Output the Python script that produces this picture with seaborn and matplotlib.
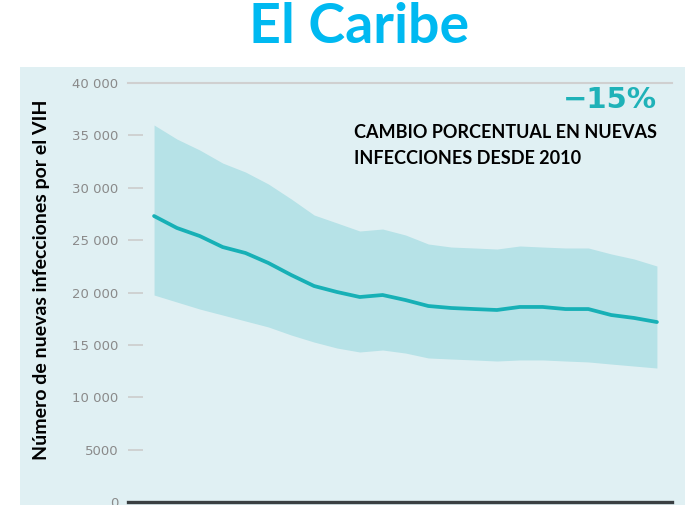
import matplotlib.pyplot as plt
import matplotlib.patches as mpatches
import seaborn as sns
import pandas as pd

# Data (new HIV infections, Caribbean)
years = list(range(1995, 2018))
estimate = [27300, 26160, 25390, 24340, 23770, 22820, 21670, 20620, 20050, 19570,
            19760, 19280, 18710, 18520, 18420, 18330, 18620, 18620, 18420, 18420,
            17850, 17570, 17180]
upper = [35990, 34650, 33600, 32360, 31500, 30360, 28930, 27400, 26640, 25870,
         26060, 25490, 24630, 24340, 24250, 24150, 24440, 24340, 24250, 24250,
         23680, 23200, 22530]
lower = [19760, 19090, 18420, 17850, 17280, 16710, 15940, 15270, 14700, 14320,
         14510, 14220, 13750, 13650, 13560, 13460, 13560, 13560, 13460, 13370,
         13170, 12980, 12790]
yticks = [0, 5000, 10000, 15000, 20000, 25000, 30000, 35000, 40000]
ytick_labels = ['0', '5000', '10 000', '15 000', '20 000', '25 000', '30 000', '35 000', '40 000']

df = pd.DataFrame({'year': years, 'estimate': estimate, 'upper': upper, 'lower': lower})

sns.set_style('white')
plt.rcParams['font.family'] = ['Lato', 'DejaVu Sans']

panel_color = '#e0f0f3'
band_color = '#b6e2e7'
line_color = '#17b0b6'

fig = plt.figure(figsize=(6.92, 5.05), dpi=100)
fig.patches.append(mpatches.Rectangle((20 / 692, 0), 665 / 692, 1 - 67 / 505,
                                      transform=fig.transFigure, facecolor=panel_color,
                                      edgecolor='none', zorder=-10))

ax = fig.add_axes([128 / 692, 3 / 505, 544 / 692, 419 / 505])
ax.set_facecolor('none')
ax.set_zorder(2)

ax.fill_between(df['year'], df['lower'], df['upper'], color=band_color, linewidth=0)
sns.lineplot(data=df, x='year', y='estimate', color=line_color, linewidth=2.7, ax=ax)

ax.set_xlim(years[0] - 1.14, years[-1] + 0.66)
ax.set_ylim(0, 40000)
ax.set_xticks([])
ax.set_yticks(yticks)
ax.set_yticklabels(ytick_labels, fontfamily='DejaVu Sans', fontsize=9.5, color='#8a8a8a')
ax.tick_params(axis='y', direction='in', length=11, width=1.2, color='#cccccc', pad=7, left=True)
ax.set_xlabel('')
ax.set_ylabel('')

for side in ['left', 'right']:
    ax.spines[side].set_visible(False)
ax.spines['top'].set_color('#d0d0d0')
ax.spines['top'].set_linewidth(1.5)
ax.spines['bottom'].set_color('#3a3f42')
ax.spines['bottom'].set_linewidth(2.4)

fig.text(359 / 692, 1 - 27 / 505, 'El Caribe', ha='center', va='center',
         fontsize=40, fontweight='bold', color='#00b9f1')
fig.text(42 / 692, 1 - 280 / 505, 'Número de nuevas infecciones por el VIH', rotation=90,
         ha='center', va='center', fontsize=14, fontweight='bold', color='black')
fig.text(657 / 692, 1 - 100 / 505, '\u221215%', ha='right', va='center',
         fontsize=21, fontweight='bold', color='#1fb2b8', fontfamily='DejaVu Sans')
fig.text(354 / 692, 1 - 132 / 505, 'CAMBIO PORCENTUAL EN NUEVAS', ha='left', va='center',
         fontsize=13, fontweight='bold', color='black')
fig.text(354 / 692, 1 - 158 / 505, 'INFECCIONES DESDE 2010', ha='left', va='center',
         fontsize=13, fontweight='bold', color='black')

plt.savefig('out.png', dpi=100)
